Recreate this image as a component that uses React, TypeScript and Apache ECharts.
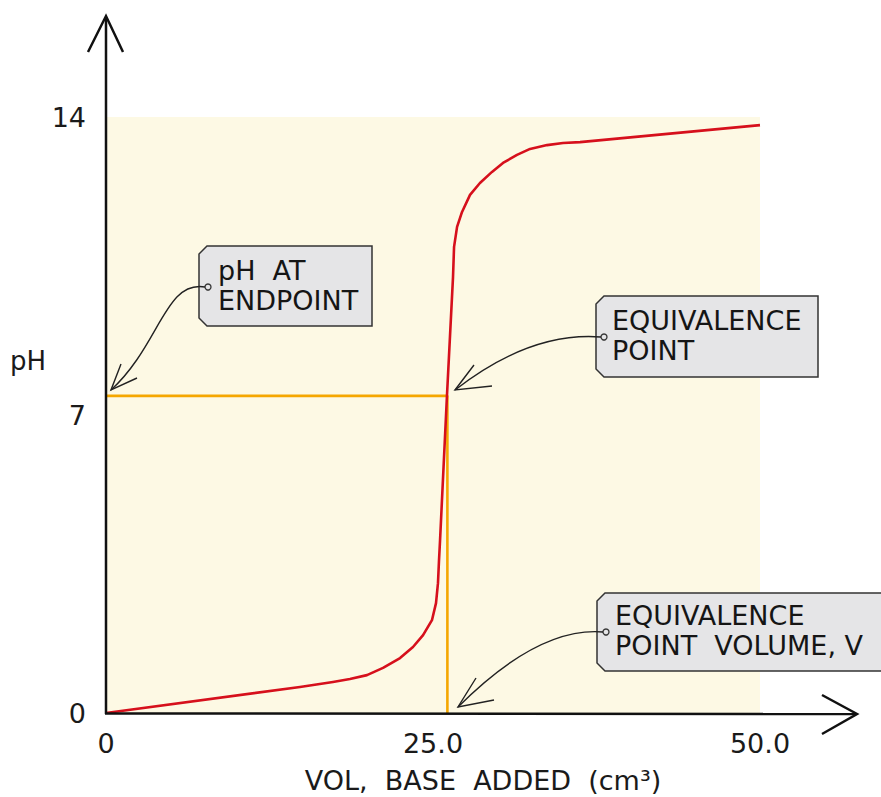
import React, { useEffect, useRef } from "react";
import * as echarts from "echarts";

// Titration curve
const volume = [0, 14.83, 17.35, 18.65, 19.95, 21.18, 22.48, 23.47, 24.24, 24.92, 25.23, 25.38, 25.46, 25.54, 26.07, 26.53, 26.61, 26.84, 27.22, 27.83, 28.59, 29.51, 30.35, 31.42, 32.42, 33.72, 34.94, 36.24, 50];
const pH = [0, 0.61, 0.73, 0.8, 0.89, 1.06, 1.29, 1.55, 1.83, 2.18, 2.58, 3.05, 3.59, 4.06, 7.47, 10.24, 10.95, 11.42, 11.77, 12.17, 12.45, 12.71, 12.92, 13.11, 13.25, 13.34, 13.39, 13.41, 13.81];

// Equivalence point
const eqVolume = 26.1;
const eqPH = 7.45;

const xTicks = [0, 25, 50];
const xTickLabels = ["0", "25.0", "50.0"];
const yTicks = [0, 7, 14];

const FONT = "DejaVu Sans";

function tag(x: number, y: number, w: number, h: number, cx: number, cy: number, text: string, tx: number, ty: number) {
  const c = 8;
  return [
    {
      type: "polygon",
      shape: { points: [[x + c, y], [x + w, y], [x + w, y + h], [x + c, y + h], [x, y + h - c], [x, y + c]] },
      style: { fill: "#e5e5e7", stroke: "#333", lineWidth: 1.5 },
      z: 10,
    },
    {
      type: "circle",
      shape: { cx, cy, r: 3 },
      style: { fill: "#e5e5e7", stroke: "#333", lineWidth: 1.3 },
      z: 11,
    },
    {
      type: "text",
      x: tx,
      y: ty,
      style: { text, font: `27px "${FONT}"`, lineHeight: 30, fill: "#151515" },
      z: 11,
    },
  ];
}

function arrow(p0: number[], p1: number[], p2: number[], p3: number[], w1: number[], w2: number[]) {
  return [
    {
      type: "bezierCurve",
      shape: { x1: p0[0], y1: p0[1], cpx1: p1[0], cpy1: p1[1], cpx2: p2[0], cpy2: p2[1], x2: p3[0], y2: p3[1] },
      style: { stroke: "#222", lineWidth: 1.4, fill: "none" },
      z: 12,
    },
    {
      type: "polyline",
      shape: { points: [w1, p3, w2] },
      style: { stroke: "#222", lineWidth: 1.4, fill: "none" },
      z: 12,
    },
  ];
}

export default function App() {
  const ref = useRef<HTMLDivElement>(null);
  useEffect(() => {
    if (!ref.current) return;
    const chart = echarts.init(ref.current, null, { renderer: "svg" });
    chart.setOption({
      animation: false,
      grid: {
        left: 106,
        right: 121,
        top: 117,
        bottom: 84,
        show: true,
        backgroundColor: "#fdf9e4",
        borderWidth: 0,
      },
      xAxis: {
        type: "value",
        min: 0,
        max: 50,
        interval: 25,
        axisLine: { show: false },
        axisTick: { show: false },
        splitLine: { show: false },
        axisLabel: {
          fontSize: 27,
          fontFamily: FONT,
          color: "#1a1a1a",
          margin: 17,
          formatter: (v: number) => xTickLabels[xTicks.indexOf(v)] ?? "",
        },
      },
      yAxis: {
        type: "value",
        min: 0,
        max: 14,
        interval: 7,
        axisLine: { show: false },
        axisTick: { show: false },
        splitLine: { show: false },
        axisLabel: {
          fontSize: 27,
          fontFamily: FONT,
          color: "#1a1a1a",
          margin: 20,
          formatter: (v: number) => (yTicks.includes(v) ? String(v) : ""),
        },
      },
      series: [
        {
          type: "line",
          data: [[0, eqPH], [eqVolume, eqPH], [eqVolume, 0]],
          symbol: "none",
          lineStyle: { color: "#f5a700", width: 2.6 },
          z: 2,
        },
        {
          type: "line",
          data: volume.map((v, i) => [v, pH[i]]),
          symbol: "none",
          smooth: false,
          lineStyle: { color: "#d6101c", width: 2.6, join: "round" },
          z: 3,
        },
      ],
      graphic: [
        // axes with open arrowheads
        { type: "line", shape: { x1: 106, y1: 714, x2: 106, y2: 17 }, style: { stroke: "#111", lineWidth: 2.5 }, z: 5 },
        { type: "polyline", shape: { points: [[88, 52], [106, 16], [123, 52]] }, style: { stroke: "#111", lineWidth: 2.5, fill: "none" }, z: 5 },
        { type: "line", shape: { x1: 105, y1: 713.5, x2: 856, y2: 714 }, style: { stroke: "#111", lineWidth: 2.5 }, z: 5 },
        { type: "polyline", shape: { points: [[822, 695], [857, 714], [822, 734]] }, style: { stroke: "#111", lineWidth: 2.5, fill: "none" }, z: 5 },
        // axis titles
        { type: "text", x: 10, y: 348, style: { text: "pH", font: `26px "${FONT}"`, fill: "#1a1a1a" }, z: 5 },
        { type: "text", x: 483, y: 767, style: { text: "VOL,  BASE  ADDED  (cm³)", font: `27px "${FONT}"`, fill: "#1a1a1a", align: "center" }, z: 5 },
        // annotations
        ...tag(199, 246, 173, 80, 208, 287, "pH  AT\nENDPOINT", 218, 255),
        ...tag(596, 296, 222, 81, 604, 337, "EQUIVALENCE\nPOINT", 612, 305),
        ...tag(597, 593, 300, 78, 606, 632, "EQUIVALENCE\nPOINT  VOLUME, V", 615, 600),
        ...arrow([205, 287], [165, 280], [160, 345], [111, 390], [121, 364], [137, 378]),
        ...arrow([601, 337], [550, 333], [500, 355], [455, 390], [474, 365], [492, 386]),
        ...arrow([603, 632], [555, 628], [505, 660], [458, 707], [476, 678], [494, 700]),
      ],
    });
    return () => chart.dispose();
  }, []);
  return <div ref={ref} style={{ width: 881, height: 797, position: "absolute", left: 0, top: 0 }} />;
}
